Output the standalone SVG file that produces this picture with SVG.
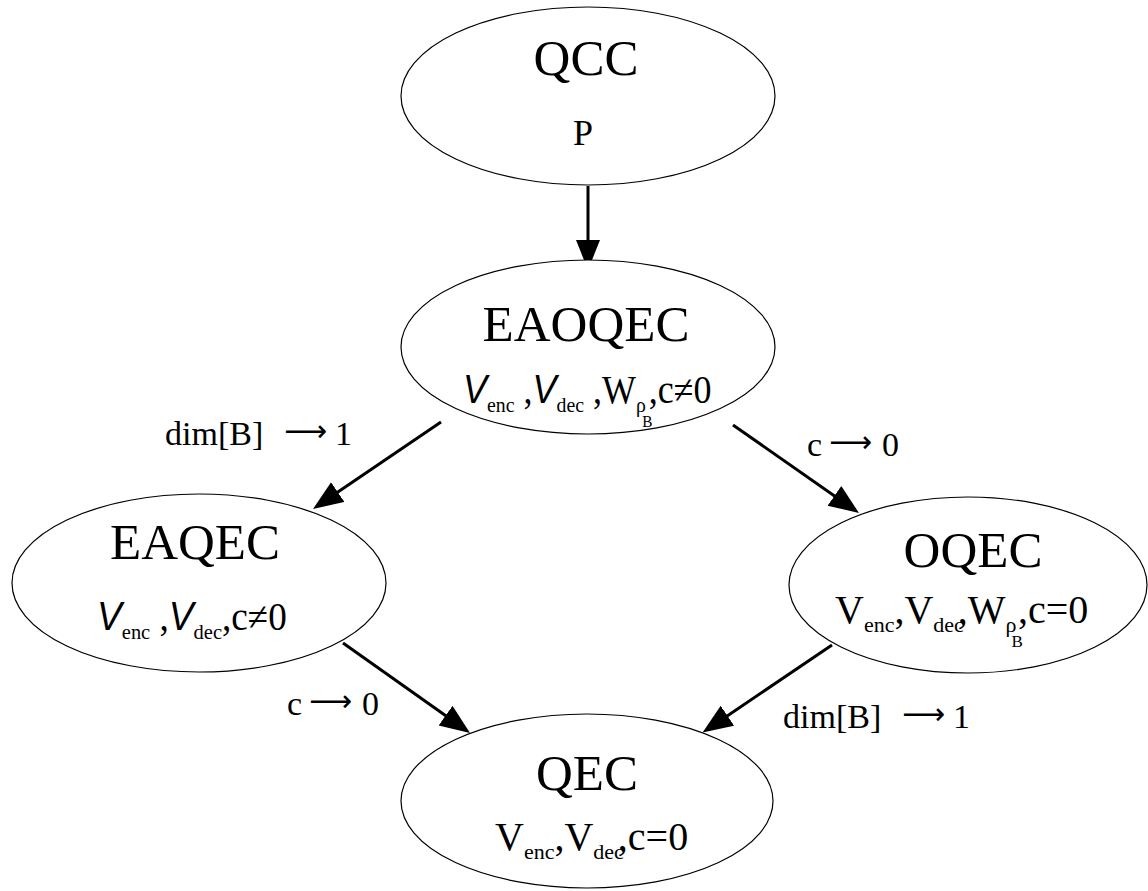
<svg xmlns="http://www.w3.org/2000/svg" width="1148" height="891" viewBox="0 0 1148 891">
<style>
.node{fill:#fff;stroke:#000;stroke-width:1.2}
.t{font-family:"Liberation Serif","Times New Roman",serif;fill:#000}
.title{font-size:51px}
.p{font-size:36px}
.body{font-size:40px}
.sub{font-size:22px}
.ssub{font-size:17px}
.it{font-family:"Liberation Sans",Arial,sans-serif;font-style:italic}
.lbl{font-size:34px}
.arr{font-family:"DejaVu Sans",sans-serif;font-size:30px}
.edge{stroke:#000;stroke-width:3;fill:none;marker-end:url(#ah)}
</style>
<defs>
<marker id="ah" markerUnits="userSpaceOnUse" markerWidth="34" markerHeight="26" refX="15" refY="12" orient="auto" viewBox="0 0 34 26">
<path d="M0,0 L30,12 L0,24 z" fill="#000"/>
</marker>
</defs>
<rect width="1148" height="891" fill="#fff"/>
<g id="connectors">
<line class="edge" x1="588" y1="186" x2="588" y2="255"/>
<line class="edge" x1="441" y1="422" x2="325.4" y2="500.5"/>
<line class="edge" x1="733" y1="425" x2="846.7" y2="504.4"/>
<line class="edge" x1="343" y1="643" x2="457.8" y2="724.3"/>
<line class="edge" x1="832" y1="645" x2="715" y2="724.2"/>
</g>
<g id="edge-labels">
<text class="t lbl" x="165" y="445">dim[B]<tspan class="arr" x="284" y="441">⟶</tspan><tspan x="335" y="445">1</tspan></text>
<text class="t lbl" x="807" y="456">c<tspan class="arr" x="829" y="452">⟶</tspan><tspan x="882" y="456">0</tspan></text>
<text class="t lbl" x="287" y="715">c<tspan class="arr" x="309" y="711">⟶</tspan><tspan x="362" y="715">0</tspan></text>
<text class="t lbl" x="783" y="728">dim[B]<tspan class="arr" x="902" y="724">⟶</tspan><tspan x="953" y="728">1</tspan></text>
</g>
<g id="QCC">
<ellipse class="node" cx="588" cy="96" rx="187" ry="89"/>
<text class="t title" x="586" y="75" text-anchor="middle">QCC</text>
<text class="t p" x="583" y="145" text-anchor="middle">P</text>
</g>
<g id="EAOQEC">
<ellipse class="node" cx="588" cy="347" rx="187" ry="87"/>
<text class="t title" x="586" y="341" text-anchor="middle">EAOQEC</text>
<text class="t body" transform="translate(463,403) scale(0.9,1)"><tspan class="it">V</tspan><tspan class="sub" y="9">enc</tspan><tspan y="0"> ,</tspan><tspan class="it">V</tspan><tspan class="sub" y="9">dec</tspan><tspan y="0"> ,W</tspan><tspan class="sub" y="9">ρ</tspan><tspan class="ssub" dx="-4" y="24">B</tspan><tspan dx="-4" y="0">,c≠0</tspan></text>
</g>
<g id="EAQEC">
<ellipse class="node" cx="199" cy="583" rx="187" ry="89"/>
<text class="t title" x="195" y="559" text-anchor="middle">EAQEC</text>
<text class="t body" transform="translate(97,630) scale(0.93,1)"><tspan class="it">V</tspan><tspan class="sub" y="9">enc</tspan><tspan y="0"> ,</tspan><tspan class="it">V</tspan><tspan class="sub" y="9">dec</tspan><tspan y="0">,c≠0</tspan></text>
</g>
<g id="OQEC">
<ellipse class="node" cx="968" cy="585" rx="179" ry="88"/>
<text class="t title" x="973" y="567" text-anchor="middle">OQEC</text>
<text class="t body" x="835" y="623">V<tspan class="sub" y="632">enc</tspan><tspan y="623">,V</tspan><tspan class="sub" y="632">dec</tspan><tspan dx="-6" y="623">,W</tspan><tspan class="sub" y="632">ρ</tspan><tspan class="ssub" dx="-5" y="647">B</tspan><tspan dx="-5" y="623">,c=0</tspan></text>
</g>
<g id="QEC">
<ellipse class="node" cx="587" cy="801" rx="186" ry="87"/>
<text class="t title" x="587" y="790" text-anchor="middle">QEC</text>
<text class="t body" x="495" y="850">V<tspan class="sub" y="859">enc</tspan><tspan y="850">,V</tspan><tspan class="sub" y="859">dec</tspan><tspan dx="-6" y="850">,c=0</tspan></text>
</g>
</svg>
